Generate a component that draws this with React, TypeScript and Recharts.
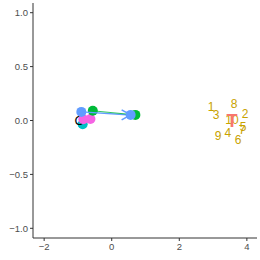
import React from "react";
import { ScatterChart, Scatter, XAxis, YAxis } from "recharts";

// left cluster
const blueStartX = [-0.9];
const blueStartY = [0.08];
const greenStartX = [-0.56];
const greenStartY = [0.09];
const pinkX = [-0.84, -0.63];
const pinkY = [0.012, 0.014];
const cyanX = [-0.86];
const cyanY = [-0.035];
const blackLabel = ["C"];
const blackX = [-0.96];
const blackY = [0.0];

// arrow ends
const blueEndX = [0.56];
const blueEndY = [0.052];
const greenEndX = [0.7];
const greenEndY = [0.052];

// right cluster labels
const numLabels = ["1", "3", "8", "2", "5", "7", "10", "9", "4", "6"];
const numX = [2.94, 3.09, 3.62, 3.95, 3.89, 3.86, 3.56, 3.15, 3.44, 3.74];
const numY = [0.125, 0.05, 0.153, 0.06, -0.06, -0.09, 0.005, -0.144, -0.116, -0.18];
const tLabel = ["T"];
const tX = [3.56];
const tY = [-0.005];

const xTicks = [-2, 0, 2, 4];
const yTicks = [-1, -0.5, 0, 0.5, 1];

const pts = (xs: number[], ys: number[], labels?: string[]) =>
  xs.map((x, i) => ({ x, y: ys[i], label: labels ? labels[i] : "" }));

const blueArrow = [
  { x: blueStartX[0], y: blueStartY[0], end: false },
  { x: blueEndX[0], y: blueEndY[0], end: true },
];
const greenArrow = [
  { x: greenStartX[0], y: greenStartY[0], end: false },
  { x: greenEndX[0], y: greenEndY[0], end: true },
];

const fmt = (v: number, digits: number) =>
  (v < 0 ? "\u2212" : "") + Math.abs(v).toFixed(digits);

const dot = (color: string) => (p: any) =>
  <circle cx={p.cx} cy={p.cy} r={5} fill={color} />;

const arrowHead = (color: string) => (p: any) => {
  if (!p.payload.end) return <g />;
  return (
    <g stroke={color} strokeWidth={1.6} fill="none">
      <line x1={p.cx - 9} y1={p.cy - 5} x2={p.cx} y2={p.cy} />
      <line x1={p.cx - 9} y1={p.cy + 5} x2={p.cx} y2={p.cy} />
    </g>
  );
};

const label = (color: string, size: number, weight = "normal") => (p: any) =>
  (
    <text
      x={p.cx}
      y={p.cy}
      fill={color}
      fontSize={size}
      fontWeight={weight}
      textAnchor="middle"
      dominantBaseline="central"
      fontFamily="Liberation Sans, Arial, sans-serif"
    >
      {p.payload.label}
    </text>
  );

const tickStyle = { fontSize: 9.5, fill: "#4D4D4D", fontFamily: "Liberation Sans, Arial, sans-serif" };

export default function App() {
  return (
    <div style={{ position: "absolute", left: 0, top: 0, background: "#fff" }}>
      <ScatterChart width={260} height={260} margin={{ top: 3, right: 3, left: 0, bottom: 0 }}>
        <XAxis
          type="number"
          dataKey="x"
          domain={[-2.33, 4.3]}
          ticks={xTicks}
          tickFormatter={(v) => fmt(v, 0)}
          height={22}
          stroke="#333"
          tickSize={3}
          tick={tickStyle}
          allowDataOverflow
        />
        <YAxis
          type="number"
          dataKey="y"
          domain={[-1.09, 1.09]}
          ticks={yTicks}
          tickFormatter={(v) => fmt(v, 1)}
          width={33}
          stroke="#333"
          tickSize={3}
          tick={tickStyle}
          allowDataOverflow
        />
        <Scatter data={pts(cyanX, cyanY)} shape={dot("#00BFC4")} isAnimationActive={false} />
        <Scatter data={pts(blackX, blackY, blackLabel)} shape={label("#000", 13)} isAnimationActive={false} />
        <Scatter data={pts(pinkX, pinkY)} shape={dot("#F564E3")} isAnimationActive={false} />
        <Scatter data={pts(blueStartX, blueStartY)} shape={dot("#619CFF")} isAnimationActive={false} />
        <Scatter data={pts(greenStartX, greenStartY)} shape={dot("#00BA38")} isAnimationActive={false} />
        <Scatter
          data={blueArrow}
          line={{ stroke: "#619CFF", strokeWidth: 1.5 }}
          shape={arrowHead("#619CFF")}
          isAnimationActive={false}
        />
        <Scatter
          data={greenArrow}
          line={{ stroke: "#00BA38", strokeWidth: 0.8 }}
          shape={() => <g />}
          isAnimationActive={false}
        />
        <Scatter data={pts(greenEndX, greenEndY)} shape={dot("#00BA38")} isAnimationActive={false} />
        <Scatter data={pts(blueEndX, blueEndY)} shape={dot("#619CFF")} isAnimationActive={false} />
        <Scatter data={pts(numX, numY, numLabels)} shape={label("#C8A200", 12)} isAnimationActive={false} />
        <Scatter data={pts(tX, tY, tLabel)} shape={label("#F8766D", 18, "bold")} isAnimationActive={false} />
      </ScatterChart>
    </div>
  );
}
